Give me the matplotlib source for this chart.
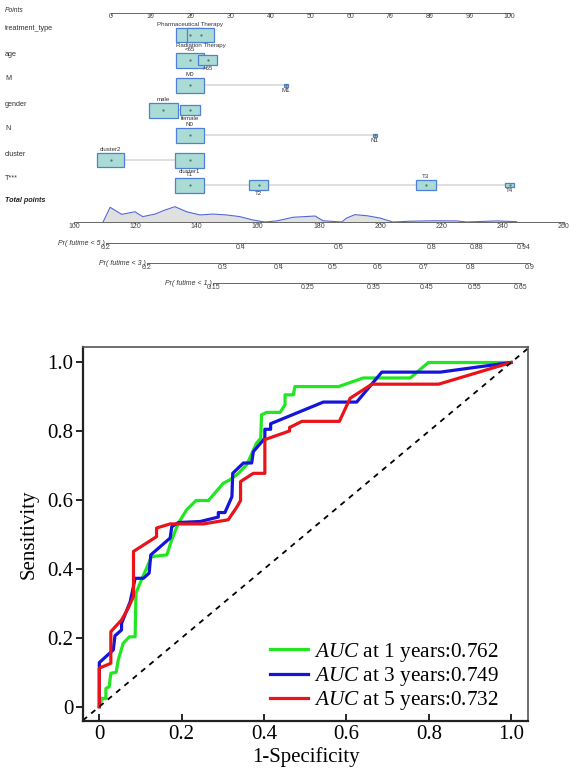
import matplotlib.pyplot as plt
from matplotlib.patches import Rectangle
import numpy as np

plt.rcParams['font.family'] = ['Liberation Sans', 'DejaVu Sans']
plt.rcParams['mathtext.fontset'] = 'custom'
plt.rcParams['mathtext.rm'] = 'Liberation Serif'
plt.rcParams['mathtext.it'] = 'Liberation Serif:italic'

# ---- nomogram data ----
var_names = ["treatment_type", "age", "M", "gender", "N", "cluster", "T***"]
var_levels = [
    ["Pharmaceutical Therapy", "Radiation Therapy"],
    ["<65", ">65"],
    ["M0", "M1"],
    ["male", "female"],
    ["N0", "N1"],
    ["cluster2", "cluster1"],
    ["T1", "T2", "T3", "T4"],
]
var_points = [
    [19.8, 22.6],
    [19.8, 24.3],
    [19.8, 43.9],
    [13.2, 19.8],
    [19.8, 66.2],
    [0.0, 19.8],
    [19.8, 37.1, 78.9, 100.0],
]
var_freq = [
    [0.49, 0.46],
    [0.50, 0.23],
    [0.50, 0.008],
    [0.53, 0.25],
    [0.50, 0.008],
    [0.45, 0.52],
    [0.52, 0.23, 0.25, 0.047],
]
points_ticks = list(range(0, 101, 10))
total_ticks = list(range(100, 261, 20))

density_tp = [109.5, 111.8, 115.6, 119.9, 122.5, 126.5, 129.7, 133.0, 136.8, 141.2,
              145.4, 149.9, 154.2, 158.5, 162.4, 166.2, 171.6, 178.8, 181.4, 187.5,
              189.1, 191.8, 195.7, 200.0, 204.2, 209.8, 217.3, 225.1, 228.3, 238.1, 244.7]
density = [0, 0.96, 0.50, 0.67, 0.35, 0.52, 0.78, 1.0, 0.67, 0.46,
           0.52, 0.46, 0.35, 0.13, 0, 0.07, 0.31, 0.39, 0.08, 0,
           0.26, 0.48, 0.41, 0.26, 0, 0.05, 0.08, 0.07, 0, 0.07, 0.02]

prob_names = ["Pr( futime < 5 )", "Pr( futime < 3 )", "Pr( futime < 1 )"]
prob_labels = [
    ["0.2", "0.4", "0.6", "0.8", "0.88", "0.94"],
    ["0.2", "0.3", "0.4", "0.5", "0.6", "0.7", "0.8", "0.9"],
    ["0.15", "0.25", "0.35", "0.45", "0.55", "0.65"],
]
prob_tp = [
    [110.5, 154.5, 186.5, 216.9, 231.6, 246.8],
    [123.8, 148.6, 167.0, 184.5, 199.2, 214.4, 229.6, 249.0],
    [145.5, 176.5, 198.0, 215.3, 231.0, 246.0],
]

# ---- ROC data ----
years = [1, 3, 5]
auc = [0.762, 0.749, 0.732]
fpr_1 = [0, 0.006, 0.016, 0.016, 0.024, 0.028, 0.041, 0.046, 0.058, 0.073, 0.087, 0.089,
         0.099, 0.127, 0.164, 0.176, 0.192, 0.212, 0.235, 0.265, 0.301, 0.317, 0.338,
         0.358, 0.382, 0.392, 0.394, 0.406, 0.439, 0.451, 0.451, 0.471, 0.475, 0.581,
         0.641, 0.755, 0.799, 1.0]
tpr_1 = [0, 0.024, 0.024, 0.053, 0.058, 0.097, 0.10, 0.136, 0.184, 0.203, 0.203, 0.330,
         0.359, 0.436, 0.441, 0.485, 0.533, 0.572, 0.599, 0.599, 0.649, 0.659, 0.678,
         0.703, 0.766, 0.780, 0.848, 0.855, 0.855, 0.877, 0.906, 0.906, 0.930, 0.930,
         0.955, 0.955, 1.0, 1.0]
fpr_3 = [0, 0, 0.034, 0.038, 0.054, 0.054, 0.075, 0.087, 0.107, 0.121, 0.125, 0.172,
         0.176, 0.192, 0.245, 0.289, 0.289, 0.305, 0.322, 0.324, 0.350, 0.370, 0.374,
         0.402, 0.402, 0.416, 0.416, 0.483, 0.544, 0.625, 0.686, 0.828, 1.0]
tpr_3 = [0, 0.128, 0.165, 0.206, 0.223, 0.242, 0.305, 0.373, 0.373, 0.388, 0.441, 0.490,
         0.523, 0.535, 0.538, 0.551, 0.564, 0.564, 0.610, 0.678, 0.708, 0.708, 0.741,
         0.780, 0.806, 0.806, 0.822, 0.855, 0.885, 0.885, 0.972, 0.972, 1.0]
fpr_5 = [0, 0, 0.028, 0.028, 0.054, 0.070, 0.083, 0.083, 0.139, 0.139, 0.172, 0.253,
         0.313, 0.334, 0.343, 0.343, 0.374, 0.402, 0.402, 0.462, 0.462, 0.492, 0.583,
         0.609, 0.662, 0.824, 1.0]
tpr_5 = [0, 0.112, 0.126, 0.218, 0.252, 0.286, 0.320, 0.451, 0.494, 0.519, 0.531, 0.531,
         0.543, 0.580, 0.599, 0.654, 0.678, 0.678, 0.776, 0.801, 0.811, 0.829, 0.829,
         0.896, 0.937, 0.937, 1.0]

fig = plt.figure(figsize=(5.7, 7.7), dpi=100)

# ================= nomogram =================
nom_h = 300
ax_n = fig.add_axes([0, 1 - nom_h / 770, 1, nom_h / 770])
px_per_pt = 3.99
x0_px = 110.7
ax_n.set_xlim(-x0_px / px_per_pt, (570 - x0_px) / px_per_pt)
ax_n.set_ylim(nom_h, 0)
ax_n.axis('off')


def tp_to_x(tp):
    # total points -> points units (100 at 74px, 3.06px per point)
    return (74 + (np.asarray(tp) - 100) * 3.06 - x0_px) / px_per_pt


label_x = -x0_px / px_per_pt + 5 / px_per_pt
txt_col = '#333333'
axis_col = '#666666'
tick_len = 2.2

ax_n.text(label_x, 10, "Points", fontsize=4.9, style='italic', color=txt_col, va='center')
y_pts = 12.7
ax_n.plot([0, 100], [y_pts, y_pts], color=axis_col, lw=0.7)
for t in points_ticks:
    ax_n.plot([t, t], [y_pts, y_pts + tick_len], color=axis_col, lw=0.6)
    ax_n.text(t, y_pts + 4.3, str(t), fontsize=5, color='#444444', ha='center', va='center')

for i, name in enumerate(var_names):
    yc = 35 + 25 * i
    ax_n.text(label_x, yc - 6, name, fontsize=5.2, color=txt_col, va='center')
    pts = var_points[i]
    ax_n.plot([min(pts), max(pts)], [yc, yc], color='#d9d9d9', lw=1.2, zorder=1)
    for j, (lev, p, f) in enumerate(zip(var_levels[i], pts, var_freq[i])):
        w = 40 * np.sqrt(f) / px_per_pt
        h = max(3, 15 * min(1, np.sqrt(f / 0.5)))
        ax_n.add_patch(Rectangle((p - w / 2, yc - h / 2), w, h, facecolor='#aadcd5',
                                 edgecolor='#4f7fd6', lw=0.9, zorder=2 + j))
        ax_n.plot(p, yc, marker='.', ms=1.2, color='#4a6f6f', zorder=10)
        if j % 2 == 0:
            ax_n.text(p, yc - h / 2 - 3.2, lev, fontsize=4.4, color=txt_col,
                      ha='center', va='center', zorder=12)
        else:
            ax_n.text(p, yc + h / 2 + 3.6, lev, fontsize=4.4, color=txt_col,
                      ha='center', va='center', zorder=12)

ax_n.text(label_x, 200, "Total points", fontsize=5.2, style='italic', weight='bold',
          color='#222222', va='center')
y_tot = 222
dens_x = tp_to_x(density_tp)
dens_y = y_tot - np.array(density) * 15.3
ax_n.fill_between(dens_x, dens_y, y_tot, color='#e0e0e0', lw=0)
ax_n.plot(dens_x, dens_y, color='#5468d4', lw=0.8)
ax_n.plot(tp_to_x([total_ticks[0], total_ticks[-1]]), [y_tot, y_tot], color=axis_col, lw=0.7)
for t in total_ticks:
    xt = tp_to_x(t)
    ax_n.plot([xt, xt], [y_tot, y_tot + tick_len], color=axis_col, lw=0.6)
    ax_n.text(xt, y_tot + 5, str(t), fontsize=5, color='#444444', ha='center', va='center')

for k, pname in enumerate(prob_names):
    yl = 242.7 + 20 * k
    xs = tp_to_x(prob_tp[k])
    ax_n.plot([xs[0], xs[-1]], [yl, yl], color=axis_col, lw=0.7)
    for xt, lab in zip(xs, prob_labels[k]):
        ax_n.plot([xt, xt], [yl, yl + tick_len], color=axis_col, lw=0.6)
        ax_n.text(xt, yl + 4.5, lab, fontsize=5, color='#444444', ha='center', va='center')
    ax_n.text(xs[0] - 0.3, yl + 1.2, pname, fontsize=5, style='italic', color=txt_col,
              ha='right', va='center')

# ================= ROC =================
ax = fig.add_axes([83 / 570, 49 / 770, 445 / 570, 374 / 770])
serif = ['Liberation Serif', 'DejaVu Serif']
colors = ['#22e622', '#1414dc', '#e8141a']
roc_x = [fpr_1, fpr_3, fpr_5]
roc_y = [tpr_1, tpr_3, tpr_5]
for fx, fy, c, yr, a in zip(roc_x, roc_y, colors, years, auc):
    ax.plot(fx, fy, color=c, lw=2.3, label=r"$\mathit{AUC}$" + f" at {yr} years:{a:.3f}")
ax.plot([-0.04, 1.04], [-0.04, 1.04], color='black', lw=1.3, ls=(0, (3, 3)))

ax.set_xlim(-0.0396, 1.041)
ax.set_ylim(-0.0416, 1.045)
ticks = [0, 0.2, 0.4, 0.6, 0.8, 1.0]
tick_lab = ['0', '0.2', '0.4', '0.6', '0.8', '1.0']
ax.set_xticks(ticks)
ax.set_yticks(ticks)
ax.set_xticklabels(tick_lab, family=serif, fontsize=15)
ax.set_yticklabels(tick_lab, family=serif, fontsize=15)
ax.tick_params(axis='x', direction='in', length=5, width=1.2, pad=3)
ax.tick_params(axis='y', direction='out', length=5, width=1.2, pad=2)
for s in ['left', 'bottom']:
    ax.spines[s].set_linewidth(1.6)
    ax.spines[s].set_color('#222222')
for s in ['top', 'right']:
    ax.spines[s].set_linewidth(1.2)
    ax.spines[s].set_color('#555555')
ax.set_xlabel("1-Specificity", family=serif, fontsize=15, labelpad=2)
ax.set_ylabel("Sensitivity", family=serif, fontsize=15, labelpad=6)

leg = ax.legend(loc='lower right', bbox_to_anchor=(0.935, 0.024), frameon=False,
                prop={'family': serif, 'size': 15.3}, handlelength=1.75,
                handletextpad=0.3, labelspacing=0.05, borderaxespad=0, borderpad=0)

fig.savefig("out.png", dpi=100)
